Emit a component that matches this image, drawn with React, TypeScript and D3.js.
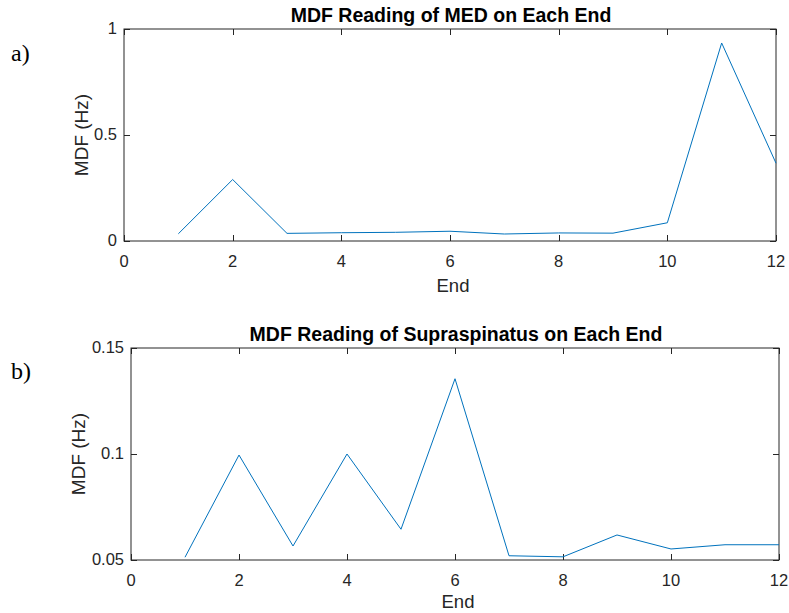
import { useRef, useEffect } from "react";
import * as d3 from "d3";

// readings per end
const ends = [1, 2, 3, 4, 5, 6, 7, 8, 9, 10, 11, 12];
const medValues = [0.034, 0.29, 0.036, 0.039, 0.041, 0.046, 0.033, 0.038, 0.037, 0.086, 0.934, 0.367];
const supraValues = [0.0513, 0.0995, 0.0566, 0.1, 0.0645, 0.1355, 0.052, 0.0515, 0.0618, 0.0552, 0.0572, 0.0572];
const xTicks = [0, 2, 4, 6, 8, 10, 12];
const medTicks = [0, 0.5, 1];
const supraTicks = [0.05, 0.1, 0.15];

const W = 789;
const H = 613;
const FONT = "'Liberation Sans', Arial, Helvetica, sans-serif";
const INK = "#262626";

function drawPanel(g: any, opts: any) {
  const { left, right, top, bottom, yDomain, yTicks, values, title, label, labelY, yLabelX, endY } = opts;
  const x = d3.scaleLinear().domain([0, 12]).range([left, right]);
  const y = d3.scaleLinear().domain(yDomain).range([bottom, top]);
  const tl = 6;

  g.append("rect")
    .attr("x", left).attr("y", top)
    .attr("width", right - left).attr("height", bottom - top)
    .attr("fill", "white").attr("stroke", INK).attr("stroke-width", 1);

  xTicks.forEach((t) => {
    const px = Math.round(x(t)) + 0.5;
    g.append("line").attr("x1", px).attr("x2", px).attr("y1", bottom).attr("y2", bottom - tl).attr("stroke", INK);
    g.append("line").attr("x1", px).attr("x2", px).attr("y1", top).attr("y2", top + tl).attr("stroke", INK);
    g.append("text").text(t).attr("x", x(t)).attr("y", bottom + 25.5)
      .attr("text-anchor", "middle").attr("font-size", 16.5).attr("fill", INK).attr("font-family", FONT);
  });

  yTicks.forEach((t: number) => {
    const py = Math.round(y(t)) + 0.5;
    g.append("line").attr("x1", left).attr("x2", left + tl).attr("y1", py).attr("y2", py).attr("stroke", INK);
    g.append("line").attr("x1", right).attr("x2", right - tl).attr("y1", py).attr("y2", py).attr("stroke", INK);
    g.append("text").text(String(t)).attr("x", left - 7).attr("y", y(t) + 5)
      .attr("text-anchor", "end").attr("font-size", 16.5).attr("fill", INK).attr("font-family", FONT);
  });

  const line = d3.line<number>().x((_, i) => x(ends[i])).y((d) => y(d));
  g.append("path").datum(values).attr("d", line).attr("fill", "none")
    .attr("stroke", "#0072BD").attr("stroke-width", 1);

  g.append("text").text(title).attr("x", (left + right) / 2 + 1).attr("y", top - 7.5)
    .attr("text-anchor", "middle").attr("font-size", 19.5).attr("font-weight", "bold")
    .attr("fill", "black").attr("font-family", FONT);

  g.append("text").text("End").attr("x", (left + right) / 2 + 3).attr("y", endY)
    .attr("text-anchor", "middle").attr("font-size", 18.5).attr("fill", INK).attr("font-family", FONT);

  g.append("text").text("MDF (Hz)")
    .attr("transform", `translate(${yLabelX},${(top + bottom) / 2}) rotate(-90)`)
    .attr("text-anchor", "middle").attr("font-size", 19).attr("fill", INK).attr("font-family", FONT);

  g.append("text").text(label).attr("x", 11).attr("y", labelY)
    .attr("font-size", 24).attr("fill", "black").attr("font-family", "'Liberation Serif', 'Times New Roman', serif");
}

export default function App() {
  const svgRef = useRef(null);

  useEffect(() => {
    const svg = d3.select(svgRef.current);
    svg.selectAll("*").remove();
    svg.append("rect").attr("width", W).attr("height", H).attr("fill", "white");

    drawPanel(svg.append("g"), {
      left: 124, right: 776, top: 29, bottom: 241,
      yDomain: [0, 1], yTicks: medTicks, values: medValues,
      title: "MDF Reading of MED on Each End", label: "a)", labelY: 61, yLabelX: 88, endY: 292,
    });
    drawPanel(svg.append("g"), {
      left: 131, right: 779, top: 348, bottom: 560,
      yDomain: [0.05, 0.15], yTicks: supraTicks, values: supraValues,
      title: "MDF Reading of Supraspinatus on Each End", label: "b)", labelY: 379, yLabelX: 85, endY: 608,
    });
  }, []);

  return (
    <div style={{ position: "absolute", left: 0, top: 0 }}>
      <svg ref={svgRef} width={W} height={H} style={{ display: "block" }} />
    </div>
  );
}
